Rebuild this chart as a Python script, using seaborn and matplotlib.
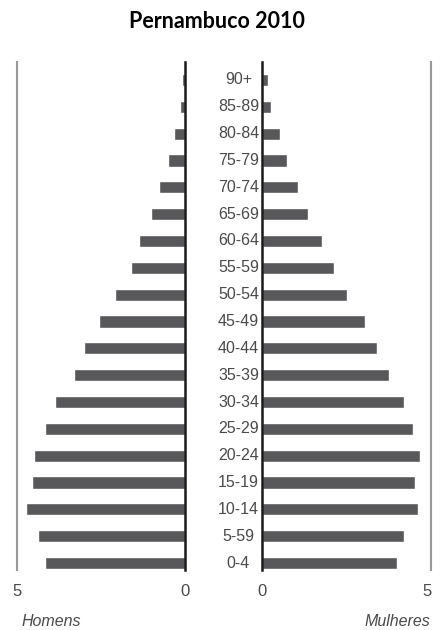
import matplotlib
matplotlib.use("Agg")
import matplotlib.pyplot as plt
import seaborn as sns
import pandas as pd

faixas = ["90+", "85-89", "80-84", "75-79", "70-74", "65-69", "60-64",
          "55-59", "50-54", "45-49", "40-44", "35-39", "30-34", "25-29",
          "20-24", "15-19", "10-14", "5-59", "0-4"]
homens = [0.08, 0.14, 0.32, 0.50, 0.77, 1.02, 1.37, 1.61, 2.09, 2.56,
          3.00, 3.31, 3.86, 4.18, 4.50, 4.54, 4.74, 4.38, 4.18]
mulheres = [0.19, 0.27, 0.52, 0.75, 1.08, 1.36, 1.77, 2.14, 2.53, 3.06,
            3.42, 3.76, 4.20, 4.49, 4.69, 4.53, 4.62, 4.22, 4.00]

sns.set_style("white")
plt.rcParams["font.family"] = ["Liberation Sans", "DejaVu Sans"]

df = pd.DataFrame({"faixa": faixas, "homens": homens, "mulheres": mulheres})

fig = plt.figure(figsize=(4.33, 6.30), dpi=100)
ax_h = fig.add_axes([17 / 433, 1 - 570 / 630, 168 / 433, 508 / 630])
ax_m = fig.add_axes([262 / 433, 1 - 570 / 630, 168.5 / 433, 508 / 630])

bar_color = "#58585a"
text_color = "#4a4a4a"

sns.barplot(data=df, x="homens", y="faixa", ax=ax_h, color=bar_color,
            width=0.45, saturation=1, orient="h")
sns.barplot(data=df, x="mulheres", y="faixa", ax=ax_m, color=bar_color,
            width=0.45, saturation=1, orient="h")

ax_h.set_xlim(5, 0)
ax_m.set_xlim(0, 5)

for ax in (ax_h, ax_m):
    ax.set_ylim(18.26, -0.67)
    ax.set_xlabel("")
    ax.set_ylabel("")
    ax.set_yticks([])
    ax.set_xticks([0, 5])
    ax.tick_params(axis="x", length=0, pad=10, labelsize=12, labelcolor=text_color)
    ax.spines["top"].set_visible(False)
    ax.spines["bottom"].set_visible(False)

ax_h.set_xticklabels(["0", "5"])
# o "5" da direita fica colado na borda: escrevo à parte um pouco para dentro
ax_m.set_xticklabels(["0", ""])
fig.text(427 / 433, 1 - 591 / 630, "5", ha="center", va="center",
         fontsize=12, color=text_color)

ax_h.spines["left"].set_color("#999999")
ax_h.spines["left"].set_linewidth(1.5)
ax_h.spines["right"].set_color("#1a1a1a")
ax_h.spines["right"].set_linewidth(1.8)
ax_m.spines["left"].set_color("#1a1a1a")
ax_m.spines["left"].set_linewidth(1.8)
ax_m.spines["right"].set_color("#999999")
ax_m.spines["right"].set_linewidth(1.5)

# rótulos das faixas etárias no centro
for i, f in enumerate(faixas):
    ax_h.annotate(f, xy=(0, i), xycoords="data", xytext=(38.5, 0),
                  textcoords="offset points", ha="center", va="center",
                  fontsize=11.5, color=text_color, annotation_clip=False)

fig.text(0.5, 1 - 22 / 630, "Pernambuco 2010", ha="center", va="center",
         fontsize=15.5, fontweight="bold", family=["Lato", "DejaVu Sans"],
         color="black")
fig.text(22 / 433, 1 - 621 / 630, "Homens", ha="left", va="center",
         fontsize=11.5, style="italic", color=text_color)
fig.text(430 / 433, 1 - 621 / 630, "Mulheres", ha="right", va="center",
         fontsize=11.5, style="italic", color=text_color)

fig.savefig("out.png", dpi=100)
